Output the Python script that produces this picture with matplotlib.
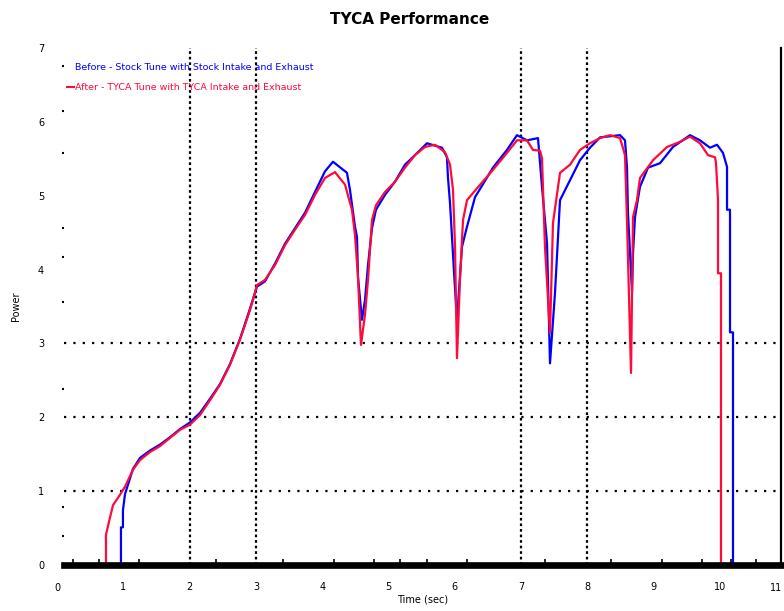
import matplotlib
matplotlib.use("Agg")
import matplotlib.pyplot as plt
from matplotlib.ticker import FixedLocator
import matplotlib.transforms as mtransforms

# ---- data ----
title = "TYCA Performance"
x_label = "Time (sec)"
y_label = "Power"
legend_blue = "Before - Stock Tune with Stock Intake and Exhaust"
legend_red = "After - TYCA Tune with TYCA Intake and Exhaust"

x_tick_values = [0, 1, 2, 3, 4, 5, 6, 7, 8, 9, 10, 11]
y_tick_values = [0, 1, 2, 3, 4, 5, 6, 7]
v_grid = [2, 3, 7, 8]
h_grid = [1, 2, 3]
x_minor = [0.241, 0.633, 1.237, 2.398, 3.409, 4.178, 4.781, 5.173, 5.581,
           6.184, 7.360, 8.356, 9.125, 9.729, 10.166, 10.543]
y_minor = [0.39, 0.79, 2.38, 3.56, 4.17, 4.56, 5.58, 6.15, 6.76]

red_x = [0.739, 0.739, 0.799, 0.845, 0.950, 1.026, 1.146, 1.252, 1.403, 1.554,
         1.704, 1.855, 2.006, 2.157, 2.308, 2.459, 2.609, 2.760, 2.911, 3.017,
         3.137, 3.288, 3.439, 3.590, 3.741, 3.891, 4.042, 4.193, 4.344, 4.449,
         4.495, 4.540, 4.585, 4.646, 4.691, 4.751, 4.811, 4.947, 5.098, 5.249,
         5.400, 5.551, 5.701, 5.852, 5.928, 5.973, 6.003, 6.033, 6.078, 6.124,
         6.184, 6.335, 6.576, 6.787, 6.938, 7.089, 7.179, 7.285, 7.315, 7.360,
         7.436, 7.481, 7.587, 7.738, 7.888, 8.039, 8.190, 8.341, 8.492, 8.567,
         8.597, 8.658, 8.688, 8.748, 8.793, 8.989, 9.201, 9.397, 9.548, 9.698,
         9.819, 9.925, 9.940, 9.970, 9.970, 10.015, 10.015]
red_y = [0.00, 0.41, 0.64, 0.81, 0.95, 1.06, 1.29, 1.42, 1.53, 1.61,
         1.72, 1.83, 1.90, 2.03, 2.23, 2.44, 2.71, 3.05, 3.45, 3.79,
         3.86, 4.06, 4.33, 4.54, 4.74, 5.01, 5.24, 5.32, 5.15, 4.81,
         4.47, 3.90, 2.98, 3.39, 3.86, 4.67, 4.87, 5.05, 5.19, 5.38,
         5.55, 5.66, 5.69, 5.59, 5.42, 5.08, 4.33, 2.80, 3.86, 4.67,
         4.94, 5.10, 5.35, 5.58, 5.75, 5.75, 5.62, 5.61, 5.51, 4.31,
         3.14, 4.63, 5.31, 5.42, 5.62, 5.71, 5.78, 5.82, 5.78, 5.55,
         4.67, 2.60, 4.71, 4.94, 5.24, 5.48, 5.66, 5.73, 5.80, 5.71,
         5.55, 5.52, 5.44, 4.94, 3.95, 3.95, 0.00]

blue_x = [0.965, 0.965, 0.995, 0.995, 1.026, 1.146, 1.252, 1.403, 1.554, 1.704,
          1.855, 2.006, 2.157, 2.308, 2.459, 2.609, 2.760, 2.911, 3.017, 3.137,
          3.288, 3.439, 3.590, 3.741, 3.891, 4.042, 4.163, 4.374, 4.419, 4.495,
          4.525, 4.540, 4.600, 4.646, 4.691, 4.751, 4.811, 4.947, 5.098, 5.249,
          5.400, 5.581, 5.807, 5.882, 5.897, 5.928, 5.988, 6.033, 6.109, 6.184,
          6.305, 6.576, 6.787, 6.938, 7.089, 7.255, 7.315, 7.391, 7.436, 7.511,
          7.587, 7.738, 7.888, 8.039, 8.190, 8.492, 8.567, 8.597, 8.612, 8.673,
          8.688, 8.718, 8.793, 8.914, 9.095, 9.291, 9.548, 9.698, 9.849, 9.955,
          10.045, 10.106, 10.106, 10.151, 10.151, 10.196, 10.196]
blue_y = [0.00, 0.51, 0.51, 0.74, 0.96, 1.30, 1.45, 1.55, 1.63, 1.73,
          1.84, 1.93, 2.06, 2.25, 2.45, 2.72, 3.06, 3.47, 3.77, 3.84,
          4.08, 4.35, 4.56, 4.77, 5.05, 5.33, 5.46, 5.31, 5.08, 4.58,
          4.44, 3.90, 3.32, 3.59, 4.06, 4.56, 4.81, 5.01, 5.19, 5.42,
          5.55, 5.71, 5.65, 5.52, 5.25, 4.90, 3.97, 3.32, 4.31, 4.58,
          4.98, 5.38, 5.62, 5.82, 5.75, 5.78, 5.12, 4.36, 2.73, 3.68,
          4.94, 5.21, 5.48, 5.65, 5.79, 5.82, 5.75, 5.39, 4.77, 3.70,
          4.22, 4.71, 5.12, 5.38, 5.44, 5.66, 5.82, 5.75, 5.65, 5.69,
          5.58, 5.39, 4.81, 4.81, 3.15, 3.15, 0.00]

BLUE = "#0000ff"
RED = "#ff0a3a"

W, H = 784, 611
fig = plt.figure(figsize=(W / 100, H / 100), dpi=100)
left_px, right_px, top_px, bot_px = 63.6, 781, 48, 565
ax = fig.add_axes([left_px / W, (H - bot_px) / H,
                   (right_px - left_px) / W, (bot_px - top_px) / H])
xmin, xmax = 0.1, 10.92
ax.set_xlim(xmin, xmax)
ax.set_ylim(0, 7)

# gridlines
for gx in v_grid:
    ax.axvline(gx, color="black", lw=1.6, ls=(0, (1.2, 1.3)), zorder=1)
for gy in h_grid:
    ax.axhline(gy, color="black", lw=1.6, ls=(0, (1.0, 3.2)), zorder=1)

ax.plot(blue_x, blue_y, color=BLUE, lw=1.6, zorder=3, clip_on=False)
ax.plot(red_x, red_y, color=RED, lw=1.6, zorder=4, clip_on=False)

# spines
for s in ["left", "top"]:
    ax.spines[s].set_visible(False)
ax.spines["bottom"].set_linewidth(4.8)
ax.spines["bottom"].set_zorder(5)
ax.spines["right"].set_linewidth(1.6)

# ticks
visible_x = [v for v in x_tick_values if xmin <= v <= xmax]
ax.xaxis.set_major_locator(FixedLocator(visible_x))
ax.yaxis.set_major_locator(FixedLocator(y_tick_values))
ax.xaxis.set_minor_locator(FixedLocator(x_minor))
ax.yaxis.set_minor_locator(FixedLocator(y_minor))
ax.tick_params(axis="x", which="major", length=0, pad=12, labelsize=7)
ax.tick_params(axis="y", which="major", length=0, pad=14, labelsize=7)
ax.tick_params(axis="x", which="minor", direction="in", length=4, width=1.2,
               top=False, bottom=True)
ax.tick_params(axis="y", which="minor", direction="out", length=1.5, width=1.5,
               pad=0, left=True)

# tick labels that sit just outside the view limits (0 and 11)
trans = mtransforms.blended_transform_factory(ax.transData, fig.transFigure)
label_y = 1 - (bot_px + 18) / H
for v in x_tick_values:
    if v in visible_x:
        continue
    if v > xmax:
        # keep the last label inside the picture, flush with the right edge
        fig.text(1.0 - 2 / W, label_y, str(v), fontsize=7, ha="right",
                 va="top")
    else:
        fig.text(v, label_y, str(v), fontsize=7, ha="center", va="top",
                 transform=trans)

ax.set_xlabel(x_label, fontsize=7, labelpad=2)
ax.set_ylabel(y_label, fontsize=7, labelpad=12)

# legend as coloured text
ax.text(0.016, 0.962, legend_blue, color=BLUE, fontsize=6.8,
        transform=ax.transAxes, va="center", ha="left", zorder=6)
ax.plot([0.005, 0.014], [0.924, 0.924], color=RED, lw=1.5,
        transform=ax.transAxes, clip_on=False)
ax.text(0.016, 0.924, legend_red, color=RED, fontsize=6.8,
        transform=ax.transAxes, va="center", ha="left", zorder=6)

fig.text(410 / W, 1 - 20 / H, title, fontsize=11, fontweight="bold",
         ha="center", va="center")

fig.savefig("out.png", dpi=100)
